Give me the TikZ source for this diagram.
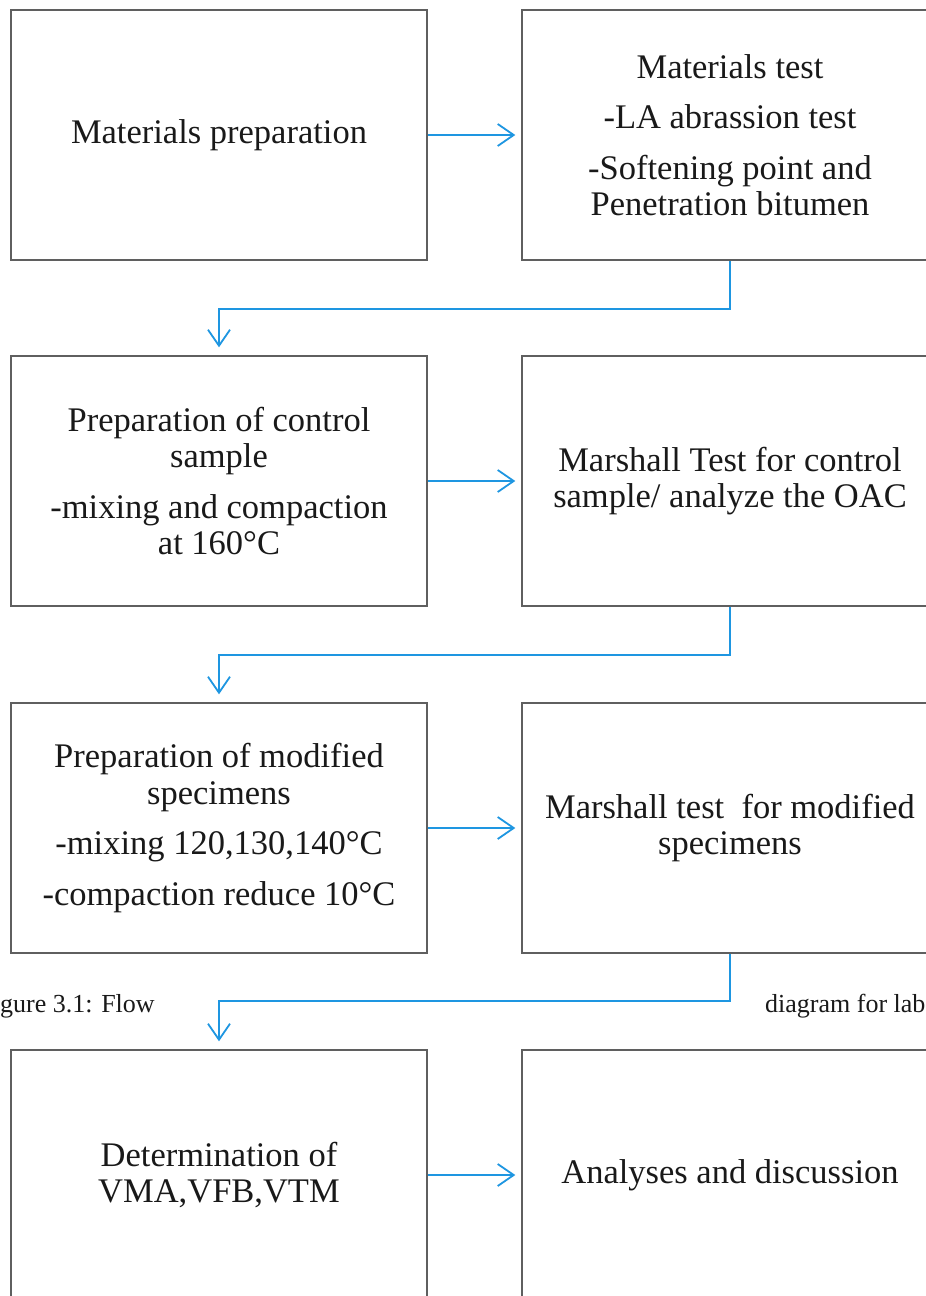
\documentclass[tikz,border=0pt]{standalone}
\usepackage{fontspec}
\setmainfont{Liberation Serif}
\usetikzlibrary{arrows.meta}
\definecolor{flowblue}{RGB}{30,150,225}
\definecolor{boxline}{RGB}{95,95,95}
\definecolor{txt}{RGB}{25,25,25}
\begin{document}
\begin{tikzpicture}[x=1pt,y=1pt,
  stagebox/.style={draw=boxline, line width=1.4pt, minimum width=416pt, minimum height=250pt,
    inner sep=0pt, align=center, text=txt, font=\fontsize{34.5}{36.5}\selectfont},
  flowarrow/.style={draw=flowblue, line width=1.8pt,
    -{Straight Barb[length=16pt,width=22pt,line width=1.8pt]}},
  captxt/.style={font=\fontsize{26}{30}\selectfont, text=txt, inner sep=0pt, anchor=base west}]
\useasboundingbox (0,0) rectangle (926,-1296);
\clip (0,0) rectangle (926,-1296);
\fill[white] (0,0) rectangle (926,-1296);

\node[stagebox] (prep) at (219,-135) {Materials preparation};
\node[stagebox] (mtest) at (730,-135) {Materials test\\[14pt]-LA abrassion test\\[14pt]-Softening point and\\Penetration bitumen};

\node[stagebox] (ctrl) at (219,-481) {Preparation of control\\sample\\[14pt]-mixing and compaction\\at 160°C};
\node[stagebox] (mctrl) at (730,-481) {Marshall Test for control\\sample/ analyze the OAC};

\node[stagebox] (modp) at (219,-828) {Preparation of modified\\specimens\\[14pt]-mixing 120,130,140°C\\[14pt]-compaction reduce 10°C};
\node[stagebox] (mmod) at (730,-828) {Marshall test\ \ for modified\\specimens};

\node[stagebox] (vma) at (219,-1175) {Determination of\\VMA,VFB,VTM};
\node[stagebox] (anal) at (730,-1175) {Analyses and discussion};

\draw[flowarrow, shorten >=6pt] (prep.east) -- (mtest.west);
\draw[flowarrow, shorten >=6pt] (ctrl.east) -- (mctrl.west);
\draw[flowarrow, shorten >=6pt] (modp.east) -- (mmod.west);
\draw[flowarrow, shorten >=6pt] (vma.east) -- (anal.west);

\draw[flowarrow, shorten >=8pt] (mtest.south) -- ++(0,-48) -| (ctrl.north);
\draw[flowarrow, shorten >=8pt] (mctrl.south) -- ++(0,-48) -| (modp.north);
\draw[flowarrow, shorten >=8pt] (mmod.south) -- ++(0,-47) -| (vma.north);

\node[captxt] (capl) at (0,-1012) {gure 3.1: Flow};
\node[captxt] (capr) at (765,-1012) {diagram for lab};
\end{tikzpicture}
\end{document}
